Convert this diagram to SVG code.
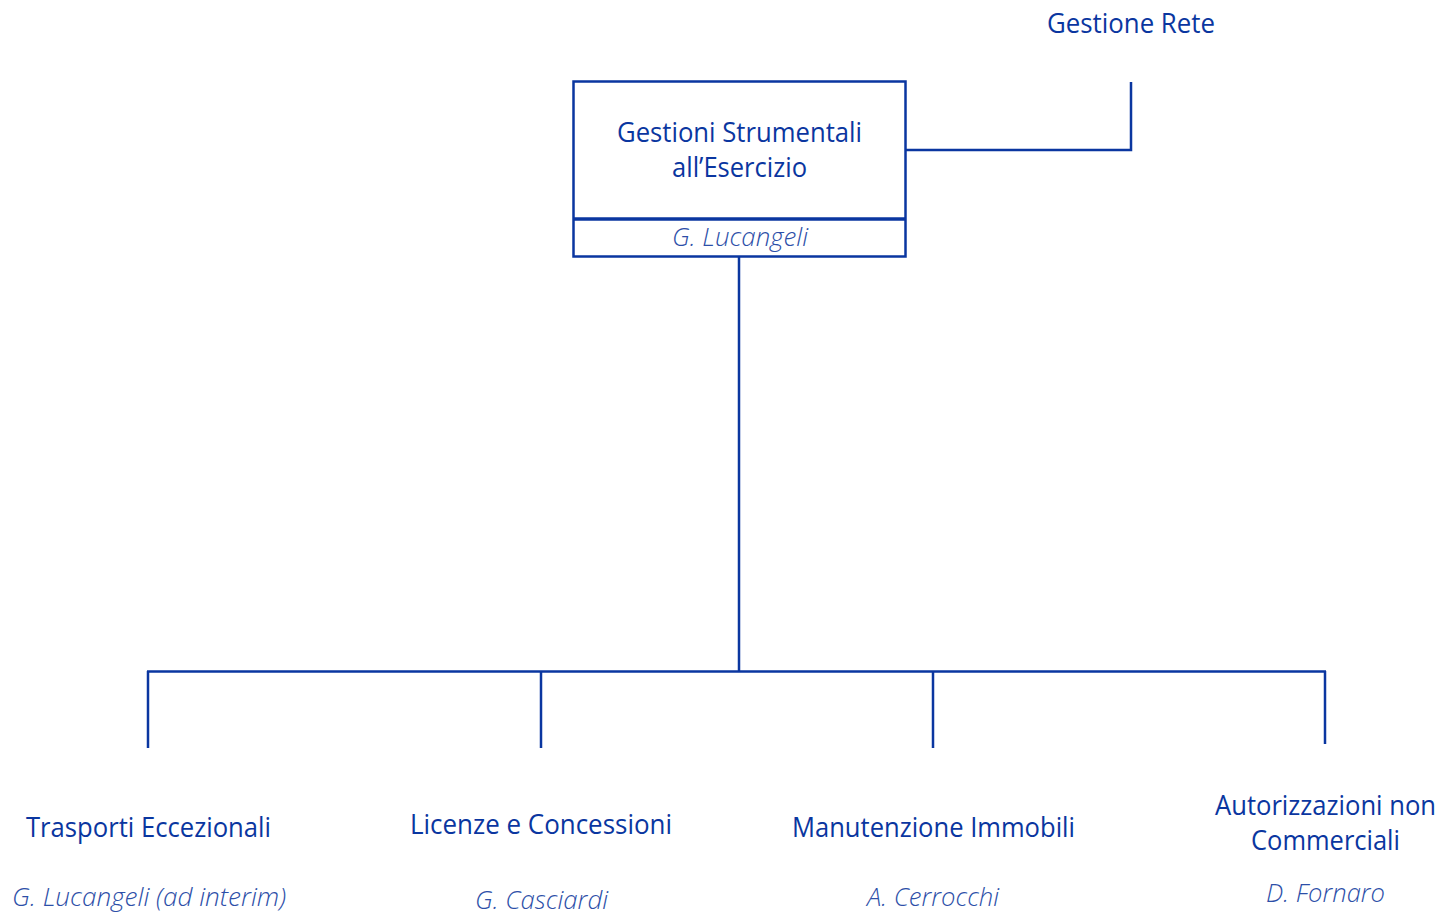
<svg xmlns="http://www.w3.org/2000/svg" width="1441" height="913" viewBox="0 0 1441 913">
<style>
.t{font-family:"Open Sans","Noto Sans","Liberation Sans",sans-serif;font-size:27.5px;fill:#0a36a0;text-anchor:middle}
.n{font-family:"Open Sans","Noto Sans","Liberation Sans",sans-serif;font-size:26px;font-weight:300;font-style:italic;fill:#2d4fa8;text-anchor:middle}
.ln{stroke:#0a36a0;stroke-width:2.5;fill:none}
</style>
<rect width="1441" height="913" fill="#ffffff"/>
<g id="connectors">
<polyline class="ln" points="906,150 1131,150 1131,82"/>
<line class="ln" x1="739" y1="257" x2="739" y2="672"/>
<line class="ln" x1="147" y1="671.5" x2="1326" y2="671.5"/>
<line class="ln" x1="148" y1="671" x2="148" y2="748"/>
<line class="ln" x1="541" y1="671" x2="541" y2="748"/>
<line class="ln" x1="933" y1="671" x2="933" y2="748"/>
<line class="ln" x1="1325" y1="671" x2="1325" y2="744"/>
</g>
<g id="root">
<rect x="573.5" y="81.5" width="332" height="175" fill="none" stroke="#0a36a0" stroke-width="2.5"/>
<line x1="573" y1="219" x2="906" y2="219" stroke="#0a36a0" stroke-width="3.5"/>
<text class="t" x="739.5" y="142" textLength="245" lengthAdjust="spacingAndGlyphs">Gestioni Strumentali</text>
<text class="t" x="739.5" y="177" textLength="135" lengthAdjust="spacingAndGlyphs">all’Esercizio</text>
<text class="n" x="740" y="246" textLength="136" lengthAdjust="spacingAndGlyphs">G. Lucangeli</text>
</g>
<g id="gestione-rete">
<text class="t" x="1131" y="33" textLength="168" lengthAdjust="spacingAndGlyphs">Gestione Rete</text>
</g>
<g id="trasporti">
<text class="t" x="148.5" y="837" textLength="245" lengthAdjust="spacingAndGlyphs">Trasporti Eccezionali</text>
<text class="n" x="149" y="906" textLength="274" lengthAdjust="spacingAndGlyphs">G. Lucangeli (ad interim)</text>
</g>
<g id="licenze">
<text class="t" x="541" y="834" textLength="262" lengthAdjust="spacingAndGlyphs">Licenze e Concessioni</text>
<text class="n" x="541.5" y="909" textLength="133" lengthAdjust="spacingAndGlyphs">G. Casciardi</text>
</g>
<g id="manutenzione">
<text class="t" x="933.5" y="837" textLength="283" lengthAdjust="spacingAndGlyphs">Manutenzione Immobili</text>
<text class="n" x="933" y="906" textLength="132" lengthAdjust="spacingAndGlyphs">A. Cerrocchi</text>
</g>
<g id="autorizzazioni">
<text class="t" x="1325.5" y="815" textLength="221" lengthAdjust="spacingAndGlyphs">Autorizzazioni non</text>
<text class="t" x="1325.5" y="850" textLength="149" lengthAdjust="spacingAndGlyphs">Commerciali</text>
<text class="n" x="1325.5" y="902" textLength="119" lengthAdjust="spacingAndGlyphs">D. Fornaro</text>
</g>
</svg>
